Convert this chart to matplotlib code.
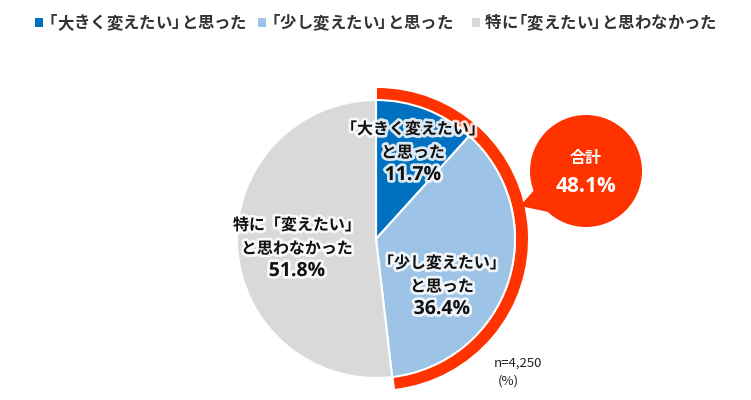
import matplotlib
matplotlib.use("Agg")
import matplotlib.pyplot as plt
import matplotlib.patheffects as pe
from matplotlib.patches import Wedge, Circle, Polygon
import numpy as np

plt.rcParams['font.family'] = ['Noto Sans CJK JP', 'DejaVu Sans']

categories = ["「大きく変えたい」と思った", "「少し変えたい」と思った", "特に「変えたい」と思わなかった"]
slice_labels = [["「大きく変えたい」", "と思った"], ["「少し変えたい」", "と思った"], ["特に「変えたい」", "と思わなかった"]]
values = [11.7, 36.4, 51.8]
total_label = "合計"
total_value = 48.1
colors = ["#0070C0", "#9DC3E6", "#D9D9D9"]
red = "#FF3300"

W, H = 751, 400
fig = plt.figure(figsize=(W / 100, H / 100), dpi=100)
ax = fig.add_axes([0, 0, 1, 1])

def py(y):
    return H - y

cx, cy, r = 376, py(239), 139

wedges, _ = ax.pie(values, colors=colors, startangle=90, counterclock=False,
                   center=(cx, cy), radius=r, frame=True,
                   wedgeprops=dict(edgecolor='white', linewidth=1.5))
for w in wedges:
    w.set_zorder(2)
ax.set_xlim(0, W)
ax.set_ylim(0, H)
ax.set_aspect('equal')
ax.axis('off')

# red ring (total of first two slices)
ring_span = total_value / 100 * 360
ax.add_patch(Wedge((cx + 1, cy), r + 12, 90 - ring_span, 90, width=12,
                   facecolor=red, edgecolor='none', zorder=1))

# callout bubble
bx, by, br = 586, py(171), 56
ax.add_patch(Circle((bx, by), br, facecolor=red, edgecolor='none', zorder=3))
a1, a2 = np.deg2rad(198), np.deg2rad(228)
ax.add_patch(Polygon([(bx + br * np.cos(a1) + 3, by + br * np.sin(a1)),
                      (520, py(206)),
                      (bx + br * np.cos(a2) + 3, by + br * np.sin(a2))],
                     closed=True, facecolor=red, edgecolor='none', zorder=3))
ax.text(bx, py(158), total_label, ha='center', va='center', color='white',
        fontsize=11.5, fontweight='bold', zorder=4)
ax.text(bx, py(186), f"{total_value:.1f}%", ha='center', va='center', color='white',
        fontsize=15, fontweight='bold', family=['Open Sans', 'DejaVu Sans'], zorder=4)

glow = [pe.withStroke(linewidth=4, foreground='white', alpha=0.85)]
label_pos = [(413, 129), (442, 263), (297, 225)]
for (lx, ly), lines, v in zip(label_pos, slice_labels, values):
    for i, ln in enumerate(lines):
        ax.text(lx, py(ly + 23.5 * i), ln, ha='center', va='center', fontsize=11.5,
                fontweight='bold', color='#111111',
                path_effects=glow, zorder=5)
    ax.text(lx, py(ly + 46), f"{v:.1f}%", ha='center', va='center', fontsize=14,
            fontweight='bold', color='#111111', family=['Open Sans', 'DejaVu Sans'],
            path_effects=glow, zorder=5)

ax.text(518, py(363), "n=4,250", ha='center', va='center', fontsize=9.5, color='#222222')
ax.text(508, py(381), "(%)", ha='center', va='center', fontsize=9.5, color='#222222')

# legend: glyph by glyph so that the corner brackets sit compactly
leg_fs = 11.8
em = leg_fs * 100 / 72
leg_y = py(22)
baseline = leg_y - 0.36 * em
leg_square_x = [35, 258, 472]
for cat, c, sx in zip(categories, colors, leg_square_x):
    ax.add_patch(plt.Rectangle((sx, leg_y - 4.5), 8, 9, facecolor=c, edgecolor='none'))
    tx = sx + 13
    for ch in cat:
        if ch == "「":
            x0, adv = tx - 0.45 * em, 0.55 * em
        elif ch == "」":
            x0, adv = tx - 0.02 * em, 0.55 * em
        else:
            x0, adv = tx, em
        ax.text(x0, baseline, ch, ha='left', va='baseline', fontsize=leg_fs,
                fontweight='bold', color='#333333')
        tx += adv

fig.savefig("out.png", dpi=100)
